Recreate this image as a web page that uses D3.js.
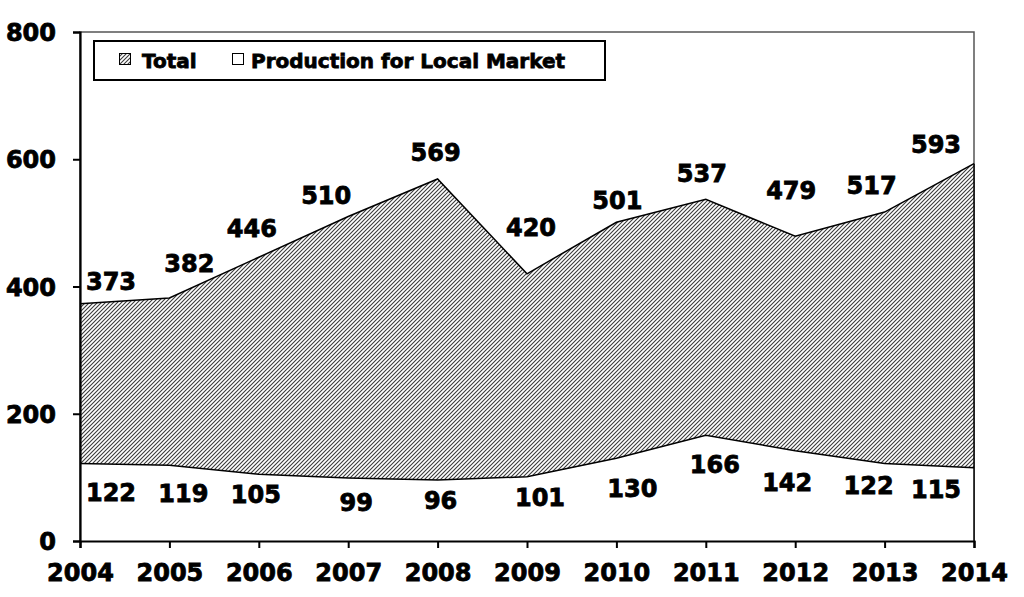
<!DOCTYPE html>
<html><head><meta charset="utf-8">
<script src="https://cdn.jsdelivr.net/npm/d3@7"></script>
<style>
html,body{margin:0;padding:0;background:#fff;}
svg text{font-family:"DejaVu Sans",Verdana,sans-serif;font-weight:bold;fill:#000;stroke:#000;stroke-width:0.8px;}
</style></head>
<body><svg id="c" width="1024" height="597"></svg>
<script>
const years = [2004,2005,2006,2007,2008,2009,2010,2011,2012,2013,2014];
const total = [373,382,446,510,569,420,501,537,479,517,593];
const local = [122,119,105,99,96,101,130,166,142,122,115];
const yTicks = [0,200,400,600,800];
const seriesNames = ["Total","Production for Local Market"];
// manual label nudges (as in the original, labels were moved by hand)
const totalNudge = [[31,-22],[20,-35],[-7,-29],[-22,-21],[-2,-27],[4,-46],[1,-22],[-4,-26],[-4,-46],[-13,-27],[-38,-19]];
const localNudge = [[31,29],[14,28],[-3,20],[8,24],[3,20],[13,21],[16,30],[9,29],[-8,32],[-16,22],[-38,22]];

const svg = d3.select("#c");
const L=80, R=974, T=32, B=541;
const x = d3.scaleLinear().domain([2004,2014]).range([L,R]);
const y = d3.scaleLinear().domain([0,800]).range([B,T]);

const defs = svg.append("defs");
const pat = defs.append("pattern").attr("id","hatch").attr("patternUnits","userSpaceOnUse")
  .attr("width",4).attr("height",4);
pat.append("rect").attr("width",4).attr("height",4).attr("fill","#fff");
pat.append("path").attr("d","M-1,5 L5,-1 M-1,1 L1,-1 M3,5 L5,3")
  .attr("stroke","#3a3a3a").attr("stroke-width",1.1);

// plot frame
svg.append("rect").attr("x",L).attr("y",T).attr("width",R-L).attr("height",B-T)
  .attr("fill","#fff").attr("stroke","#555").attr("stroke-width",1.5);

const areaT = d3.area().x((d,i)=>x(years[i])).y0(y(0)).y1(d=>y(d));
svg.append("path").datum(total).attr("d",areaT).attr("fill","url(#hatch)");
svg.append("path").datum(local).attr("d",areaT).attr("fill","#fff");
const line = d3.line().x((d,i)=>x(years[i])).y(d=>y(d));
svg.append("path").datum(total).attr("d",line).attr("fill","none").attr("stroke","#000").attr("stroke-width",1.5);
svg.append("path").datum(local).attr("d",line).attr("fill","none").attr("stroke","#000").attr("stroke-width",1.5);
svg.append("line").attr("x1",R).attr("x2",R).attr("y1",y(total[total.length-1])).attr("y2",B)
  .attr("stroke","#000").attr("stroke-width",1.5);

// axes
const yAxis = d3.axisLeft(y).tickValues(yTicks).tickSize(7).tickPadding(17).tickFormat(d3.format("d"));
const gy = svg.append("g").attr("transform",`translate(${L},0)`).call(yAxis);
const xAxis = d3.axisBottom(x).tickValues(years).tickSize(7).tickPadding(16).tickFormat(d3.format("d"));
const gx = svg.append("g").attr("transform",`translate(0,${B})`).call(xAxis);
[gx,gy].forEach(g=>{
  g.select(".domain").attr("stroke","#000").attr("stroke-width",2.2);
  g.selectAll(".tick line").attr("stroke","#000").attr("stroke-width",2);
  g.selectAll(".tick text").style("font-family","'DejaVu Sans',Verdana,sans-serif")
    .style("font-weight","bold").style("font-size","24px").attr("fill","#000")
    .style("stroke","#000").style("stroke-width","0.8px");
});
gy.selectAll(".tick text").attr("dy","0.36em");

// data labels
svg.append("g").selectAll("text").data(total).join("text")
  .attr("x",(d,i)=>x(years[i])+totalNudge[i][0]).attr("y",(d,i)=>y(d)+totalNudge[i][1])
  .attr("dy","0.36em").attr("text-anchor","middle").style("font-size","24px").text(d=>d);
svg.append("g").selectAll("text").data(local).join("text")
  .attr("x",(d,i)=>x(years[i])+localNudge[i][0]).attr("y",(d,i)=>y(d)+localNudge[i][1])
  .attr("dy","0.36em").attr("text-anchor","middle").style("font-size","24px").text(d=>d);

// legend
const lg = svg.append("g");
lg.append("rect").attr("x",94).attr("y",41).attr("width",511).attr("height",39)
  .attr("fill","#fff").attr("stroke","#000").attr("stroke-width",2);
lg.append("rect").attr("x",119.5).attr("y",53.5).attr("width",11).attr("height",11)
  .attr("fill","url(#hatch)").attr("stroke","#000").attr("stroke-width",1);
lg.append("text").attr("x",142).attr("y",61).attr("dy","0.36em").style("font-size","20px").text(seriesNames[0]);
lg.append("rect").attr("x",232.5).attr("y",53.5).attr("width",11).attr("height",11)
  .attr("fill","#fff").attr("stroke","#000").attr("stroke-width",1);
lg.append("text").attr("x",251).attr("y",61).attr("dy","0.36em").style("font-size","20px").text(seriesNames[1]);
</script></body></html>
